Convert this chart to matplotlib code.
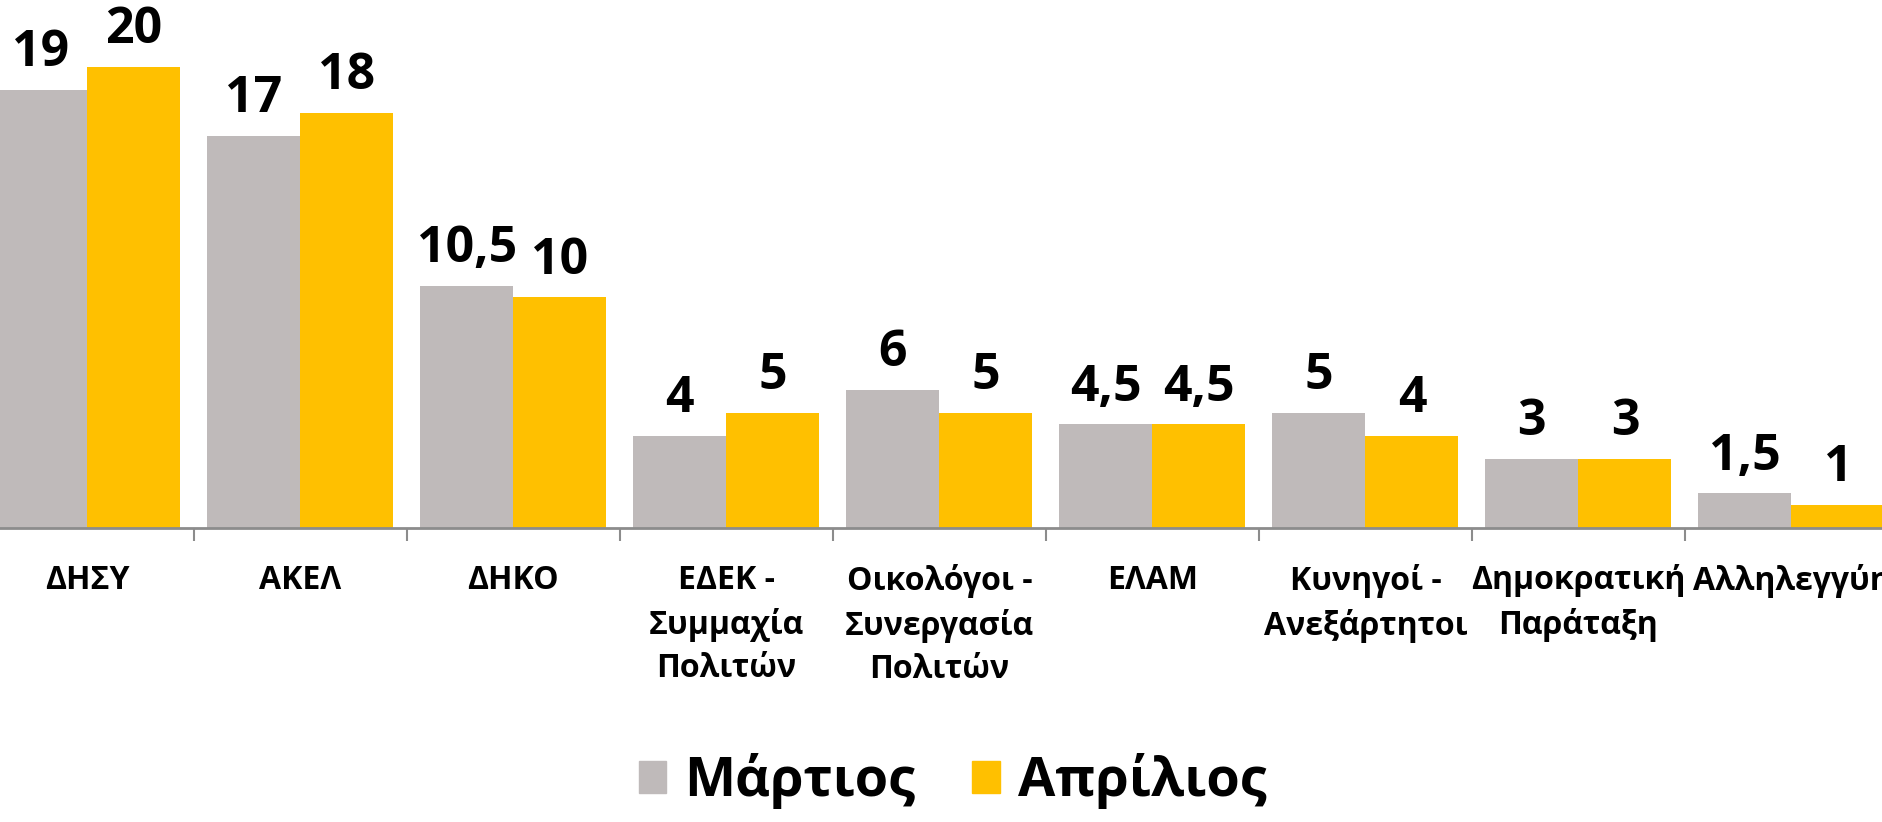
import numpy as np
import matplotlib.pyplot as plt
from matplotlib.patches import Patch

plt.rcParams['font.family'] = ['Open Sans', 'DejaVu Sans']

# data
parties = ['ΔΗΣΥ', 'ΑΚΕΛ', 'ΔΗΚΟ', 'ΕΔΕΚ -\nΣυμμαχία\nΠολιτών',
           'Οικολόγοι -\nΣυνεργασία\nΠολιτών', 'ΕΛΑΜ', 'Κυνηγοί -\nΑνεξάρτητοι',
           'Δημοκρατική\nΠαράταξη', 'Αλληλεγγύη']
march = [19, 17, 10.5, 4, 6, 4.5, 5, 3, 1.5]
april = [20, 18, 10, 5, 5, 4.5, 4, 3, 1]
series_names = ['Μάρτιος', 'Απρίλιος']

gray = '#BFBABA'
orange = '#FFC000'

fig = plt.figure(figsize=(18.83, 8.22), dpi=100)
ax = fig.add_axes([0, (822 - 528) / 822, 1, 528 / 822])

x = np.arange(len(parties))
w = 0.437
b1 = ax.bar(x - w / 2, march, w, color=gray, edgecolor='none')
b2 = ax.bar(x + w / 2, april, w, color=orange, edgecolor='none')


def fmt(v):
    return str(int(v)) if v == int(v) else str(v).replace('.', ',')


for bars, vals in [(b1, march), (b2, april)]:
    for rect, v in zip(bars, vals):
        ax.annotate(fmt(v), (rect.get_x() + rect.get_width() / 2, v),
                    xytext=(0, 17), textcoords='offset points',
                    ha='center', va='baseline', fontsize=36, fontweight='bold')

for s in ['top', 'right', 'left']:
    ax.spines[s].set_visible(False)
ax.spines['bottom'].set_color('#8C8C8C')
ax.spines['bottom'].set_linewidth(2)
ax.set_yticks([])

ax.set_xticks(x)
ax.set_xticklabels(parties, fontsize=23, fontweight='bold', linespacing=1.4)
ax.tick_params(axis='x', which='major', length=0, pad=26)
ax.set_xticks(np.arange(-0.5, len(parties) + 0.5, 1), minor=True)
ax.tick_params(axis='x', which='minor', length=9, width=1.5, color='#8C8C8C')

ax.set_xlim(-0.41, 8.43)
ax.set_ylim(0, 22.9)

handles = [Patch(color=gray), Patch(color=orange)]
fig.legend(handles, series_names, loc='center', bbox_to_anchor=(0.506, 1 - 781 / 822),
           ncol=2, frameon=False, prop={'size': 39, 'weight': 'bold'},
           handlelength=0.5, handleheight=0.55, handletextpad=0.35, columnspacing=1.05)

fig.savefig('out.png', dpi=100)
